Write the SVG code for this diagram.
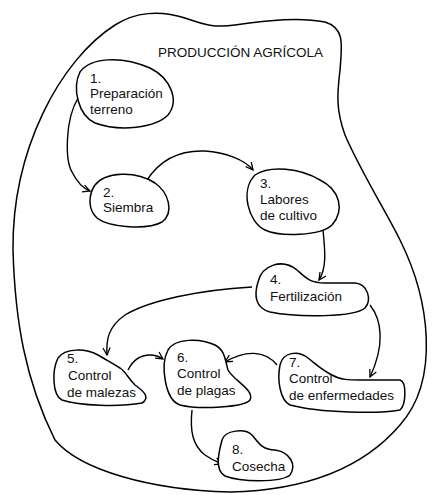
<svg xmlns="http://www.w3.org/2000/svg" width="432" height="495" viewBox="0 0 432 495">
  <defs>
    <marker id="arr" viewBox="0 0 10 10" refX="9" refY="5" markerWidth="9" markerHeight="9" orient="auto" markerUnits="userSpaceOnUse">
      <path d="M1,1 L9,5 L1,9" fill="none" stroke="#000" stroke-width="1.4"/>
    </marker>
    <style>
      .blob { fill: #fff; stroke: #000; stroke-width: 1.5; }
      .edge { fill: none; stroke: #000; stroke-width: 1.4; marker-end: url(#arr); }
      .lbl { font-family: "Liberation Sans", Arial, sans-serif; font-size: 13.5px; fill: #111; }
    </style>
  </defs>
  <rect width="432" height="495" fill="#fff"/>

  <!-- outer boundary -->
  <g id="frame">
    <path class="blob" d="M 13,250 C 12,150 60,60 115,25 C 135,12 160,10 185,18 C 205,25 215,28 235,25 C 270,20 300,17 325,22 C 345,28 342,45 340,70 C 337,95 336,110 345,135 C 360,170 385,210 400,240 C 430,300 440,380 400,425 C 370,460 320,490 230,492 C 150,490 80,470 55,440 C 25,380 15,320 13,250 Z"/>
    <text class="lbl" x="158" y="57">PRODUCCIÓN AGRÍCOLA</text>
  </g>

  <!-- connectors -->
  <g id="connectors">
    <path class="edge" d="M 78,98 C 65,120 65,160 72,172 C 77,182 82,188 90,191"/>
    <path class="edge" d="M 147,180 C 160,160 180,150 205,151 C 225,152 245,160 253,170"/>
    <path class="edge" d="M 323,230 C 325,250 327,268 319,280"/>
    <path class="edge" d="M 252,287 C 200,290 150,300 125,315 C 108,327 106,340 107,355"/>
    <path class="edge" d="M 370,305 C 382,320 385,345 370,377"/>
    <path class="edge" d="M 128,370 C 133,360 140,355 150,355 C 156,355 160,357 163,359"/>
    <path class="edge" d="M 277,365 C 265,350 245,350 225,362"/>
    <path class="edge" d="M 192,410 C 190,430 192,445 205,455 C 212,460 217,462 222,464"/>
  </g>

  <g id="n1">
    <path class="blob" d="M 80,72 C 90,58 120,55 150,68 C 170,78 180,100 168,115 C 155,128 120,132 95,123 C 78,115 72,88 80,72 Z"/>
    <text class="lbl" x="90" y="83">1.</text>
    <text class="lbl" x="90" y="98">Preparación</text>
    <text class="lbl" x="90" y="114">terreno</text>
  </g>

  <g id="n2">
    <path class="blob" d="M 95,185 C 105,172 135,170 155,183 C 168,192 175,212 162,222 C 148,230 110,228 97,218 C 88,210 88,195 95,185 Z"/>
    <text class="lbl" x="103" y="197">2.</text>
    <text class="lbl" x="103" y="212">Siembra</text>
  </g>

  <g id="n3">
    <path class="blob" d="M 255,175 C 270,165 300,168 320,180 C 340,190 345,210 332,225 C 320,236 280,237 265,230 C 248,222 240,190 255,175 Z"/>
    <text class="lbl" x="260" y="188">3.</text>
    <text class="lbl" x="260" y="204">Labores</text>
    <text class="lbl" x="260" y="220">de cultivo</text>
  </g>

  <g id="n4">
    <path class="blob" d="M 258,282 C 262,265 282,258 297,270 C 306,278 310,283 325,283 L 355,283 C 368,284 372,300 365,308 C 355,317 300,318 270,312 C 255,308 254,295 258,282 Z"/>
    <text class="lbl" x="270" y="284">4.</text>
    <text class="lbl" x="270" y="301">Fertilización</text>
  </g>

  <g id="n5">
    <path class="blob" d="M 58,358 C 65,348 85,348 98,355 C 108,361 112,363 120,368 C 126,372 128,378 135,385 C 145,392 150,398 142,403 C 120,407 80,406 62,400 C 52,395 52,370 58,358 Z"/>
    <text class="lbl" x="67" y="363">5.</text>
    <text class="lbl" x="68" y="380">Control</text>
    <text class="lbl" x="67" y="397">de malezas</text>
  </g>

  <g id="n6">
    <path class="blob" d="M 168,350 C 175,338 200,338 215,345 C 225,350 225,360 228,370 C 233,380 255,390 250,400 C 245,407 200,410 180,405 C 165,400 160,365 168,350 Z"/>
    <text class="lbl" x="177" y="362">6.</text>
    <text class="lbl" x="177" y="378">Control</text>
    <text class="lbl" x="177" y="395">de plagas</text>
  </g>

  <g id="n7">
    <path class="blob" d="M 280,365 C 283,352 298,350 308,358 C 318,366 322,370 332,375 C 340,380 350,380 360,380 L 400,380 C 407,382 406,405 400,410 C 380,414 320,413 290,405 C 280,400 277,380 280,365 Z"/>
    <text class="lbl" x="289" y="367">7.</text>
    <text class="lbl" x="289" y="383">Control</text>
    <text class="lbl" x="289" y="400">de enfermedades</text>
  </g>

  <g id="n8">
    <path class="blob" d="M 222,440 C 225,430 245,428 252,435 C 258,442 262,450 275,450 C 290,452 297,465 290,475 C 280,483 240,482 225,476 C 215,470 218,455 222,440 Z"/>
    <text class="lbl" x="232" y="454">8.</text>
    <text class="lbl" x="232" y="471">Cosecha</text>
  </g>
</svg>
